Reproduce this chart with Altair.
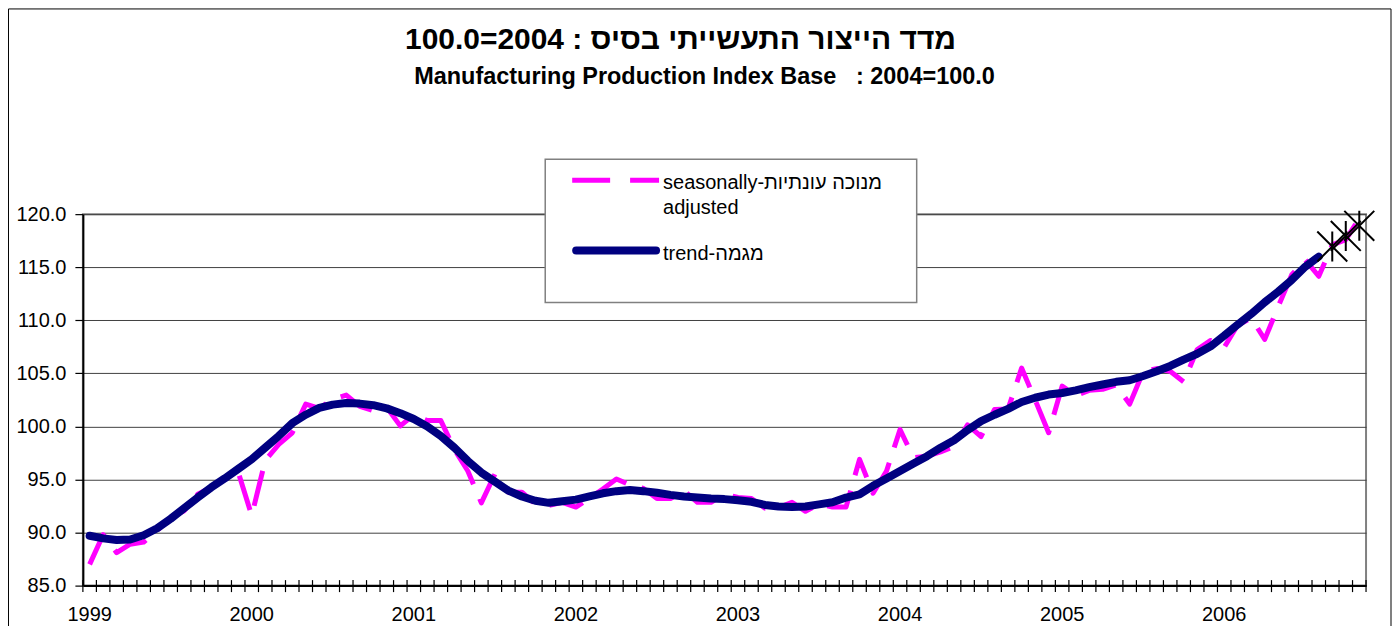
import altair as alt
import pandas as pd

FONT = "Liberation Sans"

# ---- data -------------------------------------------------------------
years = ["1999", "2000", "2001", "2002", "2003", "2004", "2005", "2006"]
months = [f"{1999 + i // 12}-{i % 12 + 1:02d}" for i in range(95)]

seasonally_adjusted = [
    87.0, 89.8, 88.1, 88.9, 89.1, 90.2, 91.4, 92.05, 93.6, 94.25, 95.0, 95.7,
    91.6, 96.8, 98.3, 99.4, 102.1, 101.7, 102.55, 102.95, 101.9, 101.5, 101.8, 100.05,
    101.1, 100.55, 100.55, 97.85, 95.8, 92.8, 95.5, 93.8, 93.8, 92.7, 92.55, 92.85,
    92.4, 93.2, 94.1, 95.05, 94.5, 94.15, 93.2, 93.2, 93.95, 92.85, 92.85, 93.65,
    93.3, 93.2, 92.3, 92.35, 92.85, 92.0, 92.7, 92.4, 92.4, 96.9, 93.7, 95.8,
    99.7, 97.05, 97.2, 97.6, 98.1, 100.15, 99.05, 101.6, 101.65, 105.5, 102.5, 99.4,
    103.8, 102.9, 103.4, 103.5, 103.9, 102.1, 105.15, 105.45, 105.2, 104.2, 107.25, 108.1,
    107.45, 109.55, 110.2, 108.2, 111.3, 114.3, 115.7, 114.15, 117.1, 117.6, 119.6,
]

trend = [
    89.7, 89.45, 89.3, 89.35, 89.75, 90.4, 91.3, 92.3, 93.3, 94.25, 95.1, 96.0,
    96.9, 98.0, 99.1, 100.3, 101.1, 101.75, 102.05, 102.2, 102.15, 102.0, 101.7, 101.25,
    100.7, 100.0, 99.1, 98.0, 96.75, 95.65, 94.8, 93.95, 93.4, 93.0, 92.8, 92.95,
    93.1, 93.4, 93.7, 93.9, 94.0, 93.9, 93.75, 93.55, 93.4, 93.3, 93.2, 93.15,
    93.05, 92.9, 92.6, 92.45, 92.4, 92.45, 92.65, 92.85, 93.3, 93.6, 94.4, 95.1,
    95.8, 96.5, 97.2, 98.0, 98.7, 99.65, 100.5, 101.1, 101.65, 102.3, 102.7, 103.0,
    103.15, 103.4, 103.7, 103.95, 104.2, 104.35, 104.75, 105.2, 105.7, 106.3, 106.85, 107.55,
    108.55, 109.6, 110.6, 111.7, 112.7, 113.8, 115.05, 116.0,
]

trend_estimate = [116.95, 117.95, 118.9]

title_he = "100.0=2004 : מדד הייצור התעשייתי בסיס"
title_en = "Manufacturing Production Index Base\u00a0\u00a0\u00a0: 2004=100.0"
legend_sa = ["seasonally-מנוכה עונתיות", "adjusted"]
legend_trend = "trend-מגמה"
y_ticks = [85, 90, 95, 100, 105, 110, 115, 120]

# ---- tables -----------------------------------------------------------
sa_df = pd.DataFrame({"month": months, "v": seasonally_adjusted})
trend_df = pd.DataFrame({"month": months[: len(trend)], "v": trend})
est_df = pd.DataFrame({"month": months[len(trend):], "v": trend_estimate})
one = pd.DataFrame({"k": [0]})

W, H = 1285, 372

xscale = alt.Scale(type="band", paddingInner=0, paddingOuter=0)
x_enc = alt.X(
    "month:N",
    bandPosition=0.5,
    scale=xscale,
    title=None,
    axis=alt.Axis(
        values=[f"{y}-01" for y in years],
        labelExpr="substring(datum.label, 0, 4)",
        labelAngle=0,
        labelAlign="center",
        labelBaseline="alphabetic",
        labelFontSize=20,
        labelFont=FONT,
        labelColor="black",
        labelPadding=34.5,
        labelOverlap=False,
        labelBound=False,
        labelFlush=False,
        bandPosition=0.5,
        ticks=False,
        tickSize=0,
        grid=False,
        domainColor="black",
        domainWidth=2,
    ),
)
y_enc = alt.Y(
    "v:Q",
    scale=alt.Scale(domain=[85, 120], nice=False, zero=False),
    title=None,
    axis=alt.Axis(
        values=y_ticks,
        format=".1f",
        labelFontSize=20,
        labelFont=FONT,
        labelColor="black",
        labelPadding=9,
        tickSize=8,
        tickColor="black",
        tickWidth=1.2,
        domainColor="black",
        domainWidth=2,
        grid=True,
        gridColor="#404040",
        gridWidth=1,
    ),
)

# outer chart frame
frame = alt.Chart(one).mark_rect(fillOpacity=0, stroke="black", strokeWidth=1).encode(
    x=alt.value(-74.5), x2=alt.value(1310), y=alt.value(-205.5), y2=alt.value(H + 80)
)

# titles
t_he = alt.Chart(one).mark_text(
    font=FONT, fontSize=30, fontWeight="bold", align="center", baseline="alphabetic", color="black"
).encode(x=alt.value(598.5), y=alt.value(-165.5), text=alt.value(title_he))
t_en = alt.Chart(one).mark_text(
    font=FONT, fontSize=23.5, fontWeight="bold", align="center", baseline="alphabetic", color="black"
).encode(x=alt.value(622.5), y=alt.value(-130.5), text=alt.value(title_en))

# x-axis crossing ticks at category boundaries
ticks = alt.Chart(sa_df).mark_rule(color="black", strokeWidth=1.2).encode(
    x=alt.X("month:N", bandPosition=0, scale=xscale, title=None),
    y=alt.value(H - 5.5),
    y2=alt.value(H + 6.5),
)
end_tick = alt.Chart(sa_df.tail(1)).mark_rule(color="black", strokeWidth=1.2).encode(
    x=alt.X("month:N", bandPosition=1, scale=xscale, title=None),
    y=alt.value(H - 5.5),
    y2=alt.value(H + 6.5),
)

sa_line = alt.Chart(sa_df).mark_line(
    color="#FF00FF", strokeWidth=5, strokeDash=[36, 16], strokeJoin="round"
).encode(x=x_enc, y=y_enc)

trend_line = alt.Chart(trend_df).mark_line(
    color="#000080", strokeWidth=8, strokeCap="round", strokeJoin="round"
).encode(x=x_enc, y=y_enc)

stars = alt.Chart(est_df).mark_point(
    shape="M-1,-1L1,1M-1,1L1,-1M0,-1L0,1",
    filled=False,
    stroke="black",
    strokeWidth=2,
    size=900,
    opacity=1,
).encode(x=x_enc, y=y_enc)

# legend
leg_box = alt.Chart(one).mark_rect(fill="white", stroke="#808080", strokeWidth=1.5).encode(
    x=alt.value(463), x2=alt.value(835), y=alt.value(-55), y2=alt.value(88.5)
)
leg_sa_line = alt.Chart(one).mark_rule(color="#FF00FF", strokeWidth=5, strokeDash=[38, 20]).encode(
    x=alt.value(490), x2=alt.value(577), y=alt.value(-34)
)
leg_tr_line = alt.Chart(one).mark_rule(color="#000080", strokeWidth=8, strokeCap="round").encode(
    x=alt.value(494), x2=alt.value(574), y=alt.value(36.5)
)
leg_sa_text = alt.Chart(one).mark_text(
    font=FONT, fontSize=20, align="left", baseline="alphabetic", lineHeight=25.5, color="black"
).encode(x=alt.value(581), y=alt.value(-25.5), text=alt.value(legend_sa))
leg_tr_text = alt.Chart(one).mark_text(
    font=FONT, fontSize=20, align="left", baseline="alphabetic", color="black"
).encode(x=alt.value(581), y=alt.value(45.5), text=alt.value(legend_trend))

chart = (
    alt.layer(
        frame, t_he, t_en, ticks, end_tick, sa_line, trend_line, stars,
        leg_box, leg_sa_line, leg_tr_line, leg_sa_text, leg_tr_text,
    )
    .properties(
        width=W,
        height=H,
        padding={"left": 75, "right": 26, "top": 206, "bottom": 40},
        autosize=alt.AutoSizeParams(type="none"),
        background="white",
    )
    .configure_view(stroke="#808080", strokeWidth=2)
)

chart.save("out.html", embed_options={"renderer": "svg", "actions": False})
